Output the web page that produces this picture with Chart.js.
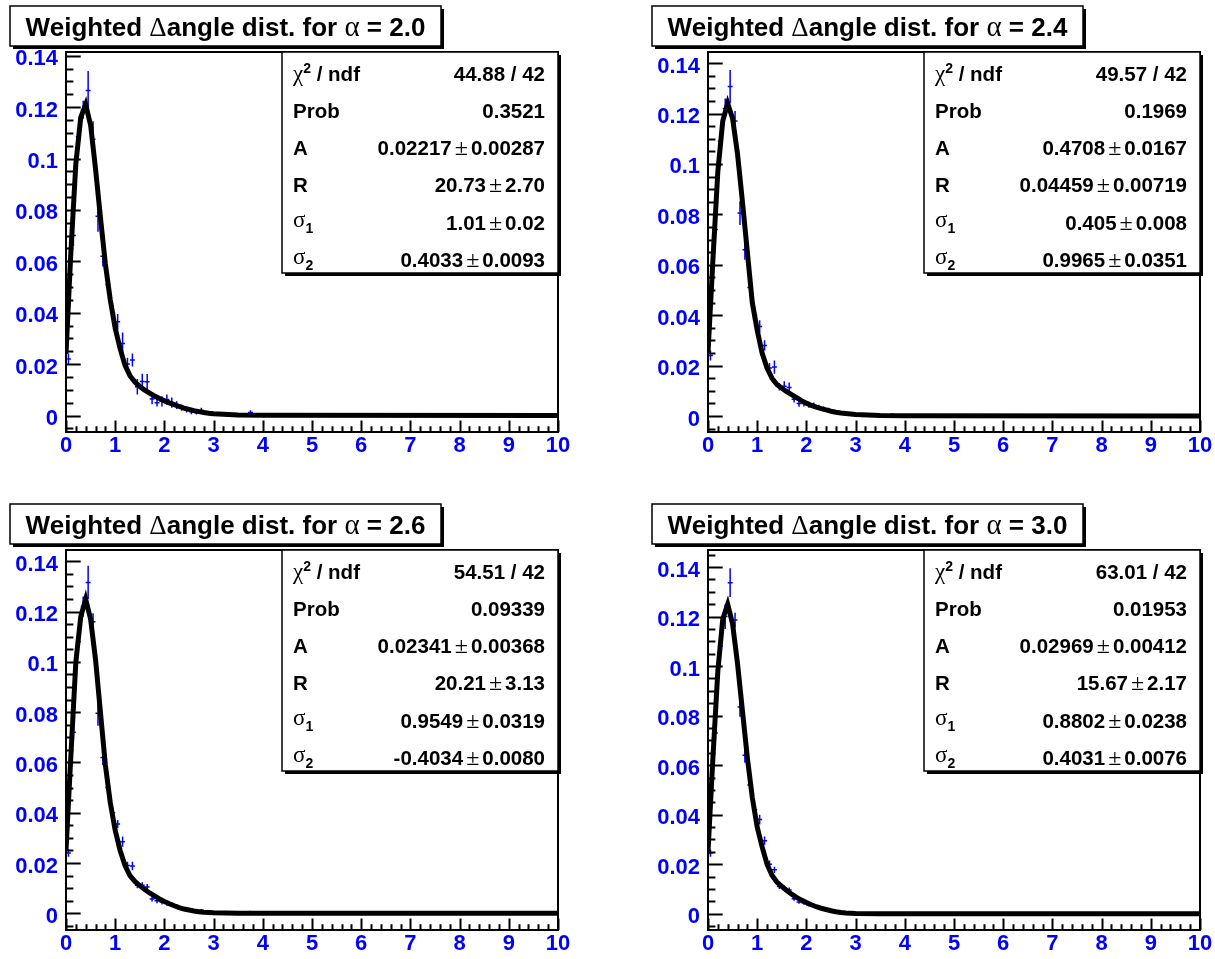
<!DOCTYPE html>
<html>
<head>
<meta charset="utf-8">
<title>Weighted Δangle distributions</title>
<script src="https://cdn.jsdelivr.net/npm/chart.js@4.4.1/dist/chart.umd.min.js"></script>
<style>
  html, body { margin: 0; padding: 0; background: #ffffff; }
  #sheet { position: relative; width: 1215px; height: 959px; overflow: hidden; background: #ffffff; }
  .pad { position: absolute; width: 573px; height: 461px; }
  .pad canvas { display: block; }
</style>
</head>
<body>
<div id="sheet">
  <div class="pad" style="left:0px;top:0px"><canvas id="pad0" width="573" height="461"></canvas></div>
  <div class="pad" style="left:642px;top:0px"><canvas id="pad1" width="573" height="461"></canvas></div>
  <div class="pad" style="left:0px;top:498px"><canvas id="pad2" width="573" height="461"></canvas></div>
  <div class="pad" style="left:642px;top:498px"><canvas id="pad3" width="573" height="461"></canvas></div>
</div>
<script>
// ---- axis ticks -------------------------------------------------------
const xTickValues = [0, 1, 2, 3, 4, 5, 6, 7, 8, 9, 10];
const xTickLabels = ['0', '1', '2', '3', '4', '5', '6', '7', '8', '9', '10'];
const yTickValues = [0, 0.02, 0.04, 0.06, 0.08, 0.1, 0.12, 0.14];
const yTickLabels = ['0', '0.02', '0.04', '0.06', '0.08', '0.1', '0.12', '0.14'];

// ---- per-pad y range (x is always 0..10) -------------------------------
const yMinByPad = [-0.00642, -0.00635, -0.00664, -0.00659];
const yMaxByPad = [0.14144, 0.1444, 0.1445, 0.1469];

// ---- fit results shown in the stat boxes -------------------------------
const alphaValues  = ['2.0', '2.4', '2.6', '3.0'];
const chi2Ndf      = ['44.88 / 42', '49.57 / 42', '54.51 / 42', '63.01 / 42'];
const probValues   = ['0.3521', '0.1969', '0.09339', '0.01953'];
const parA         = ['0.02217', '0.4708', '0.02341', '0.02969'];
const parAErr      = ['0.00287', '0.0167', '0.00368', '0.00412'];
const parR         = ['20.73', '0.04459', '20.21', '15.67'];
const parRErr      = ['2.70', '0.00719', '3.13', '2.17'];
const parSigma1    = ['1.01', '0.405', '0.9549', '0.8802'];
const parSigma1Err = ['0.02', '0.008', '0.0319', '0.0238'];
const parSigma2    = ['0.4033', '0.9965', '-0.4034', '0.4031'];
const parSigma2Err = ['0.0093', '0.0351', '0.0080', '0.0076'];

// ---- histogram bins (width 0.1) ---------------------------------------
const binCenters = [0.05, 0.15, 0.25, 0.35, 0.45, 0.55, 0.65, 0.75, 0.85, 0.95,
                    1.05, 1.15, 1.25, 1.35, 1.45, 1.55, 1.65, 1.75, 1.85, 1.95,
                    2.05, 2.15, 2.25, 2.35, 2.45, 2.55, 2.65, 2.75, 2.85, 2.95,
                    3.25, 3.75];
const binWidth = 0.1;

const histAlpha20 = [0.022, 0.070, 0.1085, 0.119, 0.1265, 0.1075, 0.0775, 0.062, 0.051, 0.040,
                     0.0365, 0.0280, 0.020, 0.0216, 0.0112, 0.0132, 0.0131, 0.0064, 0.0050, 0.0055,
                     0.0062, 0.0050, 0.0040, 0.0030, 0.0022, 0.0015, 0.0012, 0.0020, 0.0008, 0.0006,
                     0.0004, 0.0012];
const errAlpha20  = [0.002, 0.004, 0.0037, 0.0035, 0.0075, 0.007, 0.006, 0.004, 0.003, 0.003,
                     0.003, 0.0043, 0.0025, 0.0025, 0.003, 0.003, 0.003, 0.002, 0.0015, 0.002,
                     0.002, 0.002, 0.0015, 0.0012, 0.001, 0.001, 0.0008, 0.001, 0.0006, 0.0005,
                     0.0004, 0.0008];

const histAlpha24 = [0.024, 0.074, 0.109, 0.122, 0.1307, 0.117, 0.0805, 0.066, 0.051, 0.040,
                     0.0355, 0.0280, 0.019, 0.0194, 0.0116, 0.0118, 0.0113, 0.0066, 0.0050, 0.0050,
                     0.0045, 0.0042, 0.0035, 0.0028, 0.0025, 0.0016, 0.0012, 0.0013, 0.0008, 0.0006,
                     0.0003, 0.0006];
const errAlpha24  = [0.002, 0.004, 0.0035, 0.004, 0.0066, 0.004, 0.0047, 0.004, 0.003, 0.003,
                     0.0025, 0.002, 0.002, 0.0026, 0.0015, 0.002, 0.002, 0.0012, 0.0013, 0.0012,
                     0.0012, 0.0012, 0.001, 0.001, 0.0008, 0.0007, 0.0006, 0.0007, 0.0005, 0.0004,
                     0.0003, 0.0005];

const histAlpha26 = [0.024, 0.072, 0.108, 0.122, 0.1316, 0.116, 0.0796, 0.062, 0.050, 0.040,
                     0.0355, 0.0285, 0.019, 0.0188, 0.0112, 0.0112, 0.0105, 0.0057, 0.0050, 0.0045,
                     0.0040, 0.0035, 0.0028, 0.0022, 0.0018, 0.0013, 0.0010, 0.0012, 0.0006, 0.0004,
                     0.0003, 0.0006];
const errAlpha26  = [0.0015, 0.003, 0.0034, 0.004, 0.0066, 0.0033, 0.005, 0.003, 0.003, 0.002,
                     0.0016, 0.002, 0.0015, 0.0017, 0.0012, 0.0012, 0.0012, 0.001, 0.001, 0.001,
                     0.001, 0.0008, 0.0008, 0.0007, 0.0006, 0.0005, 0.0005, 0.0005, 0.0004, 0.0003,
                     0.0003, 0.0004];

const histAlpha30 = [0.0245, 0.073, 0.108, 0.120, 0.1337, 0.1186, 0.0835, 0.064, 0.052, 0.042,
                     0.038, 0.0295, 0.020, 0.0177, 0.0110, 0.0105, 0.0096, 0.0060, 0.0047, 0.0043,
                     0.0035, 0.0033, 0.0026, 0.0020, 0.0016, 0.0011, 0.0008, 0.0008, 0.0005, 0.0003,
                     0.0002, 0.0003];
const errAlpha30  = [0.0015, 0.003, 0.003, 0.005, 0.0058, 0.003, 0.004, 0.003, 0.002, 0.002,
                     0.002, 0.0017, 0.0015, 0.0013, 0.001, 0.001, 0.001, 0.0008, 0.0007, 0.0007,
                     0.0006, 0.0006, 0.0005, 0.0005, 0.0004, 0.0004, 0.0003, 0.0003, 0.0003, 0.0002,
                     0.0002, 0.0002];

// ---- fitted function, sampled as a polyline ----------------------------
const fitX = [0, 0.1, 0.2, 0.3, 0.4, 0.5, 0.6, 0.7, 0.8, 0.9,
              1.0, 1.1, 1.2, 1.3, 1.4, 1.5, 1.6, 1.7, 1.8, 1.9,
              2.0, 2.1, 2.2, 2.3, 2.4, 2.5, 2.6, 2.7, 2.8, 2.9,
              3.0, 3.5, 4.0, 10];
const fitAlpha20 = [0.024, 0.064, 0.098, 0.116, 0.121, 0.113, 0.096, 0.077, 0.059, 0.045,
                    0.034, 0.026, 0.0195, 0.0155, 0.0130, 0.0113, 0.0099, 0.0087, 0.0076, 0.0066,
                    0.0057, 0.0049, 0.0042, 0.0035, 0.0029, 0.0024, 0.0019, 0.0015, 0.0012, 0.0009,
                    0.0007, 0.0002, 0.00005, 0];
const fitAlpha24 = [0.025, 0.062, 0.097, 0.117, 0.124, 0.118, 0.104, 0.085, 0.065, 0.045,
                    0.034, 0.025, 0.019, 0.0150, 0.0125, 0.0110, 0.0097, 0.0085, 0.0073, 0.0061,
                    0.0051, 0.0042, 0.0035, 0.0029, 0.0024, 0.0019, 0.0015, 0.0012, 0.0010, 0.0008,
                    0.0006, 0.0002, 0.00005, 0];
const fitAlpha26 = [0.025, 0.063, 0.100, 0.118, 0.125, 0.117, 0.101, 0.080, 0.059, 0.044,
                    0.033, 0.025, 0.019, 0.0150, 0.0127, 0.0110, 0.0095, 0.0081, 0.0069, 0.0057,
                    0.0047, 0.0038, 0.0030, 0.0023, 0.0017, 0.0013, 0.0009, 0.0006, 0.0004, 0.0003,
                    0.0002, 0.00003, 0, 0];
const fitAlpha30 = [0.025, 0.063, 0.098, 0.119, 0.125, 0.117, 0.101, 0.082, 0.063, 0.047,
                    0.035, 0.027, 0.020, 0.0155, 0.0128, 0.0110, 0.0094, 0.0079, 0.0066, 0.0055,
                    0.0045, 0.0036, 0.0028, 0.0022, 0.0017, 0.0012, 0.0008, 0.0005, 0.0003, 0.0002,
                    0.0001, 0, 0, 0];

const histByPad = [histAlpha20, histAlpha24, histAlpha26, histAlpha30];
const errByPad  = [errAlpha20, errAlpha24, errAlpha26, errAlpha30];
const fitByPad  = [fitAlpha20, fitAlpha24, fitAlpha26, fitAlpha30];

// ---- look ---------------------------------------------------------------
const SANS  = '"Liberation Sans", Arial, Helvetica, sans-serif';
const SERIF = '"Liberation Serif", "Times New Roman", serif';
const bold  = s => `bold ${s}px ${SANS}`;
const greek = s => `${s}px ${SERIF}`;
const BLUE  = '#0000ff';
const PAD_W = 573, PAD_H = 461;
const FRAME = { left: 66, top: 52, right: 558, bottom: 432 };
const TITLE_BOX = { x: 10, y: 6, w: 431, h: 40 };
const STAT_BOX  = { x: 282, y: 52, w: 276, h: 221 };
const STAT_FONT = 20.5;

function drawRuns(ctx, runs, x, baseline, align) {
  let total = 0;
  runs.forEach(r => {
    ctx.font = r.font;
    r.w = ctx.measureText(r.t).width + (r.gapL || 0) + (r.gapR || 0);
    total += r.w;
  });
  let cx = align === 'right' ? x - total : (align === 'center' ? x - total / 2 : x);
  runs.forEach(r => {
    ctx.font = r.font;
    ctx.fillText(r.t, cx + (r.gapL || 0), baseline + (r.dy || 0));
    cx += r.w;
  });
}

function shadowBox(ctx, b) {
  ctx.fillStyle = '#000';
  ctx.fillRect(b.x + 3, b.y + 3, b.w, b.h);
  ctx.fillStyle = '#fff';
  ctx.fillRect(b.x, b.y, b.w, b.h);
  ctx.strokeStyle = '#000';
  ctx.lineWidth = 1.5;
  ctx.strokeRect(b.x, b.y, b.w, b.h);
}

function valueRuns(v, e) {
  return [
    { t: v, font: bold(STAT_FONT) },
    { t: '±', font: greek(24), gapL: 3, gapR: 3 },
    { t: e, font: bold(STAT_FONT) }
  ];
}

const rootPad = {
  id: 'rootPad',
  beforeDraw(chart) {
    const c = chart.ctx;
    c.save();
    c.fillStyle = '#ffffff';
    c.fillRect(0, 0, chart.width, chart.height);
    c.restore();
  },
  beforeDatasetsDraw(chart) {
    // error bars of the histogram, under the fitted curve
    const c = chart.ctx, xs = chart.scales.x, ys = chart.scales.y;
    const area = chart.chartArea;
    const ds = chart.data.datasets[1];
    const meta = chart.getDatasetMeta(1);
    c.save();
    c.beginPath();
    c.rect(area.left, area.top, area.right - area.left, area.bottom - area.top);
    c.clip();
    c.strokeStyle = BLUE;
    c.lineWidth = 1.5;
    meta.data.forEach((pt, i) => {
      const d = ds.data[i];
      const yHi = ys.getPixelForValue(d.y + d.err);
      const yLo = ys.getPixelForValue(d.y - d.err);
      const xL = xs.getPixelForValue(d.x - binWidth / 2);
      const xR = xs.getPixelForValue(d.x + binWidth / 2);
      c.beginPath();
      c.moveTo(pt.x, yHi); c.lineTo(pt.x, yLo);
      c.moveTo(xL, pt.y);  c.lineTo(xR, pt.y);
      c.stroke();
    });
    c.restore();
  },
  afterDraw(chart, args, opts) {
    const c = chart.ctx, xs = chart.scales.x, ys = chart.scales.y;
    const { left, right, top, bottom } = chart.chartArea;
    const k = opts.index;
    c.save();
    c.strokeStyle = '#000';
    c.lineWidth = 2;
    c.lineCap = 'butt';
    // frame
    c.strokeRect(left, top, right - left, bottom - top);
    // x ticks: majors every 1, minors every 0.2, pointing inward
    c.beginPath();
    for (let j = 0; j <= 50; j++) {
      const v = j * 0.2;
      const px = Math.round(xs.getPixelForValue(v)) + 0.5;
      const len = (j % 5 === 0) ? 11.4 : 5.7;
      c.moveTo(px, bottom); c.lineTo(px, bottom - len);
    }
    // y ticks: majors every 0.02, minors every 0.005
    const yMin = ys.min, yMax = ys.max;
    for (let j = Math.ceil(yMin / 0.005); j * 0.005 <= yMax + 1e-9; j++) {
      const v = j * 0.005;
      const py = Math.round(ys.getPixelForValue(v)) + 0.5;
      const len = (j % 4 === 0) ? 14.7 : 7.4;
      c.moveTo(left, py); c.lineTo(left + len, py);
    }
    c.stroke();

    // title pave
    shadowBox(c, TITLE_BOX);
    c.fillStyle = '#000';
    c.textBaseline = 'alphabetic';
    drawRuns(c, [
      { t: 'Weighted ', font: bold(26) },
      { t: 'Δ', font: greek(27) },
      { t: 'angle dist. for ', font: bold(26) },
      { t: 'α', font: greek(29) },
      { t: ' = ' + alphaValues[k], font: bold(26) }
    ], TITLE_BOX.x + TITLE_BOX.w / 2, 35.5, 'center');

    // fit statistics pave
    shadowBox(c, STAT_BOX);
    c.fillStyle = '#000';
    const labelX = 293, valueX = 545;
    const rowBase = i => 80.5 + 37.3 * i;
    const labels = [
      [{ t: 'χ', font: greek(23) }, { t: '2', font: bold(14), dy: -8 }, { t: ' / ndf', font: bold(STAT_FONT) }],
      [{ t: 'Prob', font: bold(STAT_FONT) }],
      [{ t: 'A', font: bold(STAT_FONT) }],
      [{ t: 'R', font: bold(STAT_FONT) }],
      [{ t: 'σ', font: greek(23), dy: -3 }, { t: '1', font: bold(14), dy: 3 }],
      [{ t: 'σ', font: greek(23), dy: -3 }, { t: '2', font: bold(14), dy: 3 }]
    ];
    const values = [
      [{ t: chi2Ndf[k], font: bold(STAT_FONT) }],
      [{ t: probValues[k], font: bold(STAT_FONT) }],
      valueRuns(parA[k], parAErr[k]),
      valueRuns(parR[k], parRErr[k]),
      valueRuns(parSigma1[k], parSigma1Err[k]),
      valueRuns(parSigma2[k], parSigma2Err[k])
    ];
    labels.forEach((runs, i) => drawRuns(c, runs, labelX, rowBase(i), 'left'));
    values.forEach((runs, i) => drawRuns(c, runs, valueX, rowBase(i), 'right'));
    c.restore();
  }
};

function makePad(k) {
  const histPts = binCenters.map((x, i) => ({ x: x, y: histByPad[k][i], err: errByPad[k][i] }));
  const fitPts = fitX.map((x, i) => ({ x: x, y: fitByPad[k][i] }));
  const tickFont = { family: SANS, size: 22, weight: 'bold' };
  return new Chart(document.getElementById('pad' + k), {
    type: 'scatter',
    data: {
      datasets: [
        { label: 'fit', type: 'line', data: fitPts, borderColor: '#000000', borderWidth: 5,
          pointRadius: 0, tension: 0, fill: false, borderJoinStyle: 'miter', borderCapStyle: 'butt', order: 0 },
        { label: 'data', data: histPts, pointRadius: 0, borderColor: BLUE, backgroundColor: BLUE, order: 1 }
      ]
    },
    options: {
      responsive: false,
      animation: false,
      events: [],
      layout: { autoPadding: false, padding: { left: 0, top: FRAME.top, right: PAD_W - FRAME.right, bottom: 0 } },
      plugins: { legend: { display: false }, tooltip: { enabled: false }, title: { display: false }, rootPad: { index: k } },
      scales: {
        x: {
          type: 'linear', position: 'bottom', min: 0, max: 10,
          grid: { display: false, drawTicks: false }, border: { display: false },
          afterBuildTicks: s => { s.ticks = xTickValues.map(v => ({ value: v })); },
          afterFit: s => { s.height = PAD_H - FRAME.bottom; s.paddingLeft = 0; s.paddingRight = 0; },
          ticks: { color: BLUE, font: tickFont, padding: 1, maxRotation: 0, minRotation: 0, autoSkip: false,
                   callback: (v, i) => xTickLabels[i] }
        },
        y: {
          type: 'linear', position: 'left', min: yMinByPad[k], max: yMaxByPad[k],
          grid: { display: false, drawTicks: false }, border: { display: false },
          afterBuildTicks: s => { s.ticks = yTickValues.map(v => ({ value: v })); },
          afterFit: s => { s.width = FRAME.left; s.paddingTop = 0; s.paddingBottom = 0; },
          ticks: { color: BLUE, font: tickFont, padding: 8, labelOffset: 3.5, autoSkip: false,
                   callback: (v, i) => yTickLabels[i] }
        }
      }
    },
    plugins: [rootPad]
  });
}

[0, 1, 2, 3].forEach(makePad);
</script>
</body>
</html>
